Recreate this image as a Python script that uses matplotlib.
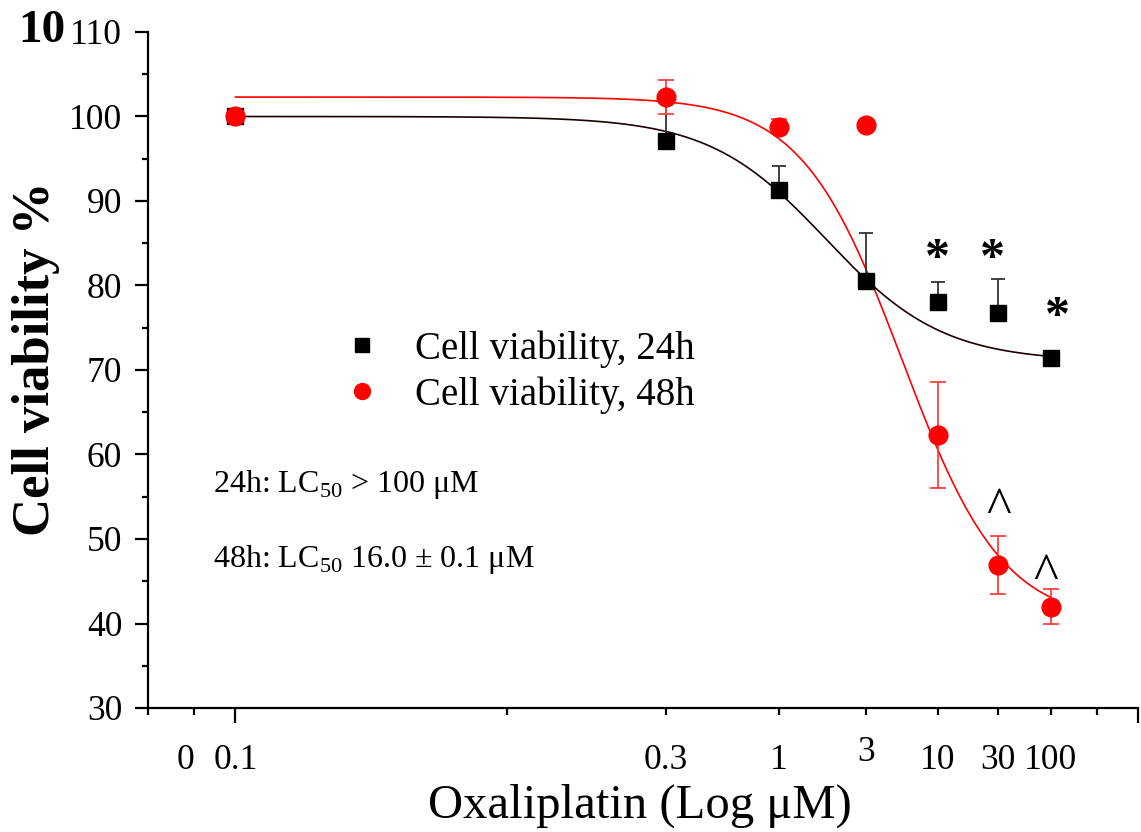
import matplotlib
matplotlib.use('Agg')
import matplotlib.pyplot as plt
from matplotlib.ticker import FixedLocator, NullFormatter
import numpy as np

plt.rcParams['font.family'] = ['Liberation Serif', 'DejaVu Serif']
plt.rcParams['mathtext.fontset'] = 'custom'
plt.rcParams['mathtext.rm'] = 'Liberation Serif'

# doses (uM) and where they sit on the log position axis
dose_labels = ['0.1', '0.3', '1', '3', '10', '30', '100']
dose_pos = [1, 3, 4, 5, 6, 7, 8]

via_24h = [100.0, 97.1, 91.3, 80.5, 78.0, 76.7, 71.4]
err_24h = [0.0, 5.1, 2.9, 5.7, 2.4, 4.1, 0.3]
via_48h = [100.0, 102.3, 98.8, 99.0, 62.3, 46.9, 42.0]
err_48h = [0.0, 2.0, 0.9, 0.3, 6.3, 3.4, 2.1]

# dose-response fit: top, bottom, x50 (axis position), hill slope
fit_24h = [100.0, 71.0, 4.51, 6.7]
fit_48h = [102.3, 40.0, 5.48, 7.8]

# significance marks (axis position, value)
star_x = [6.0, 6.9, 8.15]
star_y = [83.0, 83.0, 76.2]
caret_x = [7.0, 7.9]
caret_y = [53.4, 45.6]


def doseresp(p, top, bottom, x50, hill):
	return bottom + (top - bottom) / (1 + (p / x50) ** hill)


W, H = 1141, 832
fig = plt.figure(figsize=(W / 100, H / 100), dpi=100)
ax = fig.add_axes([148 / W, 1 - 708 / H, (1138 - 148) / W, (708 - 32) / H])

ax.set_xscale('log')
ax.set_xlim(0.8, 10)
ax.set_ylim(30, 110)

p = np.logspace(0, np.log10(8), 400)
ax.plot(p, doseresp(p, *fit_48h), color='red', lw=1.2, zorder=2)
ax.plot(p, doseresp(p, *fit_24h), color='#1a0000', lw=1.2, zorder=2)

ax.errorbar(dose_pos, via_24h, yerr=[np.zeros(len(err_24h)), err_24h],
			fmt='none', ecolor='#333333', elinewidth=1.3, capsize=5, capthick=1.3, zorder=3)
ax.errorbar(dose_pos, via_48h, yerr=err_48h,
			fmt='none', ecolor='#ff4040', elinewidth=1.3, capsize=5.5, capthick=1.3, zorder=3)

ax.plot(dose_pos, via_24h, 's', color='black', ms=11.5, ls='none',
		label='Cell viability, 24h', zorder=4)
ax.plot(dose_pos, via_48h, 'o', color='red', ms=13.5, ls='none',
		label='Cell viability, 48h', zorder=4)

for x, y in zip(star_x, star_y):
	ax.text(x, y, '*', fontsize=36, fontweight='bold', ha='center', va='center')
for x, y in zip(caret_x, caret_y):
	ax.text(x, y, '^', fontsize=38, ha='center', va='center')

# axes styling
for s in ['top', 'right']:
	ax.spines[s].set_visible(False)
for s in ['left', 'bottom']:
	ax.spines[s].set_linewidth(1.6)

ax.set_yticks(np.arange(30, 111, 10))
ax.set_yticks(np.arange(35, 110, 10), minor=True)
ax.tick_params(axis='y', which='major', length=9.5, width=1.6, labelsize=25.5, pad=9)
ax.tick_params(axis='y', which='minor', length=4.3, width=1.6)

ax.xaxis.set_major_locator(FixedLocator([1, 10]))
ax.xaxis.set_minor_locator(FixedLocator([0.8, 0.9, 2, 3, 4, 5, 6, 7, 8, 9]))
ax.xaxis.set_major_formatter(NullFormatter())
ax.xaxis.set_minor_formatter(NullFormatter())
ax.tick_params(axis='x', which='major', length=11, width=1.6)
ax.tick_params(axis='x', which='minor', length=5, width=1.6)

xtr = ax.get_xaxis_transform()
ax.text(0.88, -0.078, '0', transform=xtr, fontsize=25.5, ha='center', va='center')
for x, lab in zip(dose_pos, dose_labels):
	yy = -0.066 if lab == '3' else -0.078
	ax.text(x, yy, lab, transform=xtr, fontsize=25.5, ha='center', va='center')

fig.text(640 / W, 1 - 818 / H, 'Oxaliplatin (Log μM)', fontsize=35, ha='center', va='baseline')
fig.text(36 / W, 1 - 359 / H, 'Cell viability %', fontsize=38, fontweight='bold',
		 rotation=90, ha='center', va='center')
fig.text(42 / W, 1 - 31 / H, '10', fontsize=34, fontweight='bold', ha='center', va='center')

fig.text(213 / W, 1 - 492 / H, '24h: LC$_\\mathregular{50}$ > 100 μM', fontsize=23,
		 ha='left', va='baseline')
fig.text(213 / W, 1 - 567 / H, '48h: LC$_\\mathregular{50}$ 16.0 ± 0.1 μM', fontsize=23,
		 ha='left', va='baseline')

ax.legend(loc='center left', bbox_to_anchor=(342.5 / W, 1 - 372 / H),
		  bbox_transform=fig.transFigure, frameon=False, fontsize=28,
		  handlelength=1.0, handletextpad=0.86, labelspacing=0.22,
		  borderpad=0, borderaxespad=0, markerscale=0.85)

fig.savefig('out.png', dpi=100)
